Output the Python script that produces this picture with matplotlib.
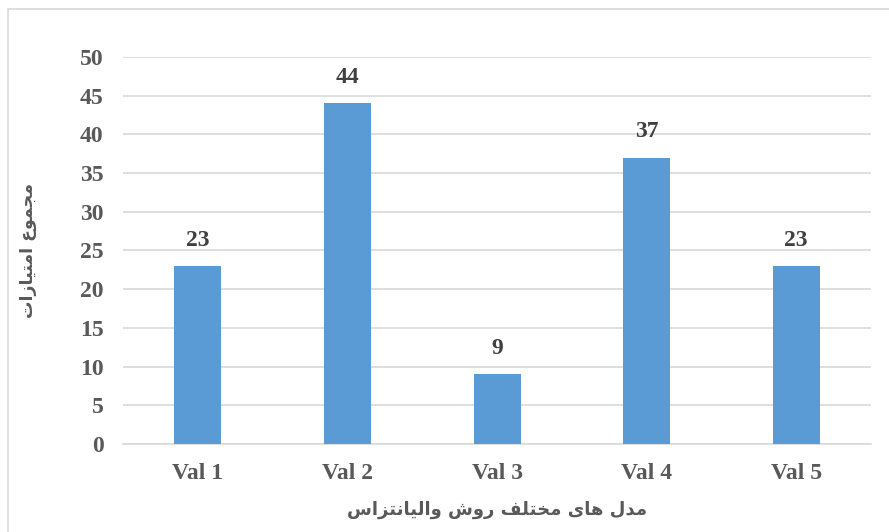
"""
plot.py
=======
Bar chart of total scores per Val model, Persian axis titles.
"""

import matplotlib
matplotlib.use('Agg')
import matplotlib.pyplot as plt
from matplotlib.patches import Rectangle


# ---------------------------------------------------------------------------
# Data
# ---------------------------------------------------------------------------

categories = ['Val 1', 'Val 2', 'Val 3', 'Val 4', 'Val 5']
scores     = [23, 44, 9, 37, 23]
y_ticks    = [0, 5, 10, 15, 20, 25, 30, 35, 40, 45, 50]

x_title = 'مدل های مختلف روش والیانتزاس'
y_title = 'مجموع امتیازات'


# ---------------------------------------------------------------------------
# Minimal Arabic-script shaping (matplotlib draws glyphs unjoined, LTR)
# ---------------------------------------------------------------------------

# letter -> (isolated, final, initial, medial); None = does not join forward
_FORMS = {
    'ا': (0xFE8D, 0xFE8E, None, None),
    'د': (0xFEA9, 0xFEAA, None, None),
    'ر': (0xFEAD, 0xFEAE, None, None),
    'ز': (0xFEAF, 0xFEB0, None, None),
    'و': (0xFEED, 0xFEEE, None, None),
    'م': (0xFEE1, 0xFEE2, 0xFEE3, 0xFEE4),
    'ل': (0xFEDD, 0xFEDE, 0xFEDF, 0xFEE0),
    'ه': (0xFEE9, 0xFEEA, 0xFEEB, 0xFEEC),
    'ی': (0xFEEF, 0xFEF0, 0xFEF3, 0xFEF4),
    'خ': (0xFEA5, 0xFEA6, 0xFEA7, 0xFEA8),
    'ت': (0xFE95, 0xFE96, 0xFE97, 0xFE98),
    'ف': (0xFED1, 0xFED2, 0xFED3, 0xFED4),
    'ش': (0xFEB5, 0xFEB6, 0xFEB7, 0xFEB8),
    'ن': (0xFEE5, 0xFEE6, 0xFEE7, 0xFEE8),
    'س': (0xFEB1, 0xFEB2, 0xFEB3, 0xFEB4),
    'ج': (0xFE9D, 0xFE9E, 0xFE9F, 0xFEA0),
    'ع': (0xFEC9, 0xFECA, 0xFECB, 0xFECC),
}


def shape_rtl(text):
    out = []
    for i, ch in enumerate(text):
        if ch not in _FORMS:
            out.append(ch)
            continue
        prev = text[i - 1] if i > 0 else ''
        nxt = text[i + 1] if i + 1 < len(text) else ''
        joins_prev = prev in _FORMS and _FORMS[prev][2] is not None
        joins_next = _FORMS[ch][2] is not None and nxt in _FORMS
        iso, fin, ini, med = _FORMS[ch]
        if joins_prev and joins_next:
            code = med
        elif joins_prev:
            code = fin
        elif joins_next:
            code = ini
        else:
            code = iso
        out.append(chr(code))
    return ''.join(reversed(out))


# ---------------------------------------------------------------------------
# Plot
# ---------------------------------------------------------------------------

def main():
    serif = 'Liberation Serif'
    tick_color = '#595959'

    fig = plt.figure(figsize=(8.89, 5.32), dpi=100)
    ax = fig.add_axes([0.1384, 0.1654, 0.8414, 0.7275])

    # thin frame around the chart area (only left / top show in the crop)
    fig.patches.append(Rectangle((0.0095, -0.05), 1.2, 1.033,
                                 transform=fig.transFigure, fill=False,
                                 edgecolor='#d9d9d9', linewidth=1.2))

    x = range(len(categories))
    bars = ax.bar(x, scores, width=0.314, color='#5b9bd5', zorder=3)

    for rect, val in zip(bars, scores):
        ax.annotate(str(val),
                    xy=(rect.get_x() + rect.get_width() / 2, rect.get_height()),
                    xytext=(0, 11), textcoords='offset points',
                    ha='center', va='bottom', fontsize=17, fontweight='bold',
                    family=serif, color='#404040')

    ax.set_xlim(-0.5, len(categories) - 0.5)
    ax.set_ylim(0, 50)
    ax.set_yticks(y_ticks)
    ax.set_xticks(list(x))
    ax.set_xticklabels(categories)
    ax.yaxis.grid(True, color='#d9d9d9', linewidth=1.2, zorder=0)
    ax.set_axisbelow(True)

    for side in ('top', 'right', 'left'):
        ax.spines[side].set_visible(False)
    ax.spines['bottom'].set_color('#d9d9d9')
    ax.spines['bottom'].set_linewidth(1.2)

    ax.tick_params(axis='y', length=0, pad=14)
    ax.tick_params(axis='x', length=0, pad=14)
    for lbl in ax.get_xticklabels() + ax.get_yticklabels():
        lbl.set_family(serif)
        lbl.set_fontweight('bold')
        lbl.set_fontsize(17)
        lbl.set_color(tick_color)

    ax.set_xlabel(shape_rtl(x_title), family=['DejaVu Sans'], fontweight='bold',
                  fontsize=13, color=tick_color, labelpad=12)
    ax.set_ylabel(shape_rtl(y_title), family=['DejaVu Sans'], fontweight='bold',
                  fontsize=12.5, color=tick_color, labelpad=31)

    fig.savefig('out.png', dpi=100)
    plt.close('all')


if __name__ == '__main__':
    main()
